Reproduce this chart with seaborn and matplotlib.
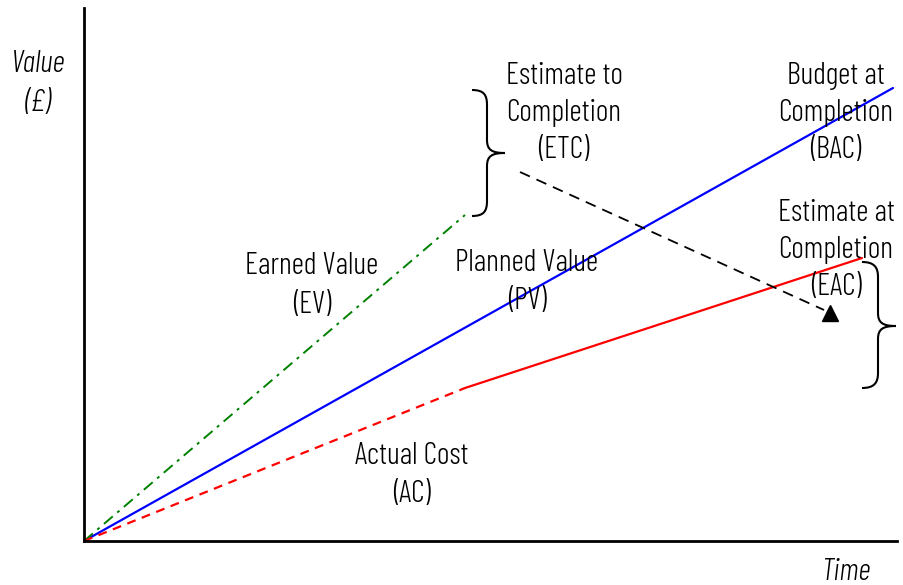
import matplotlib
matplotlib.use("Agg")
import matplotlib.pyplot as plt
from matplotlib import font_manager as fm
from matplotlib.path import Path
from matplotlib.patches import PathPatch
import seaborn as sns
import pandas as pd

# ---- data (time, value) in chart units ----
pv_time = [0, 809]
pv_value = [0, 453]
ev_time = [0, 381]
ev_value = [0, 326]
ac_past_time = [0, 381]
ac_past_value = [0, 153]
ac_future_time = [381, 778]
ac_future_value = [153, 283]
etc_time = [436, 740]
etc_value = [369, 231]
etc_tip_time = [746]
etc_tip_value = [228]

sns.set_theme(style="white")
names = {f.name for f in fm.fontManager.ttflist}
prefs = ["Barlow Condensed", "Saira Condensed", "Roboto Condensed", "Oswald", "DejaVu Sans"]
fam = [n for n in prefs if n in names] or ["DejaVu Sans"]
plt.rcParams["font.family"] = fam

W, H = 904, 585
fig = plt.figure(figsize=(W / 100, H / 100), dpi=100)
ax = fig.add_axes([84 / W, (H - 541) / H, (897 - 84) / W, (541 - 8) / H])
ax.set_xlim(0, 813)
ax.set_ylim(0, 533)

df = lambda x, y: pd.DataFrame({"t": x, "v": y})
sns.lineplot(data=df(pv_time, pv_value), x="t", y="v", color="#0000ff", lw=1.6, ax=ax)
sns.lineplot(data=df(ev_time, ev_value), x="t", y="v", color="#008000", lw=1.4, ax=ax,
             linestyle=(0, (6, 3, 1.5, 3)))
sns.lineplot(data=df(ac_past_time, ac_past_value), x="t", y="v", color="#ff0000", lw=1.6, ax=ax,
             linestyle=(0, (4, 3)))
sns.lineplot(data=df(ac_future_time, ac_future_value), x="t", y="v", color="#ff0000", lw=1.6, ax=ax)
sns.lineplot(data=df(etc_time, etc_value), x="t", y="v", color="black", lw=1.3, ax=ax,
             linestyle=(0, (6, 4)))
ax.plot(etc_tip_time, etc_tip_value, marker="^", color="black", markersize=11, ls="none")

for s in ["top", "right"]:
    ax.spines[s].set_visible(False)
for s in ["left", "bottom"]:
    ax.spines[s].set_color("black")
    ax.spines[s].set_linewidth(2)
ax.set_xticks([])
ax.set_yticks([])
ax.set_xlabel("")
ax.set_ylabel("")


def P(px, py):
    return (px - 84, 541 - py)


def brace(xl, xv, xp, ytop, ymid, ybot):
    verts = [P(xl, ytop), P(xl + 12, ytop), P(xv, ytop + 5), P(xv, ytop + 15),
             P(xv, ymid - 13),
             P(xv, ymid - 3), P(xv + 5, ymid), P(xp, ymid),
             P(xv + 5, ymid), P(xv, ymid + 3), P(xv, ymid + 13),
             P(xv, ybot - 15),
             P(xv, ybot - 5), P(xl + 12, ybot), P(xl, ybot)]
    codes = [Path.MOVETO, Path.CURVE4, Path.CURVE4, Path.CURVE4,
             Path.LINETO,
             Path.CURVE4, Path.CURVE4, Path.CURVE4,
             Path.CURVE4, Path.CURVE4, Path.CURVE4,
             Path.LINETO,
             Path.CURVE4, Path.CURVE4, Path.CURVE4]
    ax.add_patch(PathPatch(Path(verts, codes), fill=False, lw=1.5, ec="black", clip_on=False))


brace(472, 487, 505, 90, 153, 216)
brace(862, 878, 896, 262, 326, 388)

fs = 22
def label(px, py, s, ls=1.4, **kw):
    ax.text(*P(px, py), s, ha="center", va="center", fontsize=fs, color="black",
            linespacing=ls, fontweight=300, clip_on=False, **kw)

label(564, 113, "Estimate to\nCompletion\n(ETC)")
label(836, 113, "Budget at\nCompletion\n(BAC)")
label(836, 250, "Estimate at\nCompletion\n(EAC)")
label(312, 285, "Earned Value\n(EV)", ls=1.5)
label(527, 282, "Planned Value\n(PV)", ls=1.45)
label(412, 475, "Actual Cost\n(AC)", ls=1.45)
label(38, 83, "Value\n(£)", ls=1.5, style="italic")
label(846, 572, "Time", style="italic")

fig.savefig("out.png", dpi=100)
